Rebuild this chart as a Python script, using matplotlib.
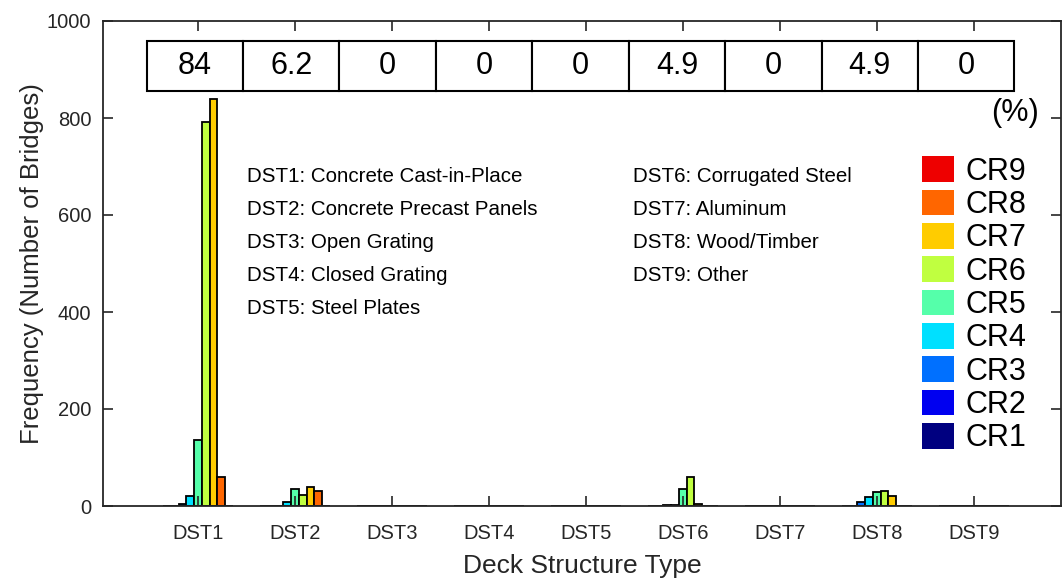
import matplotlib.pyplot as plt
import numpy as np
from matplotlib.patches import Rectangle

plt.rcParams['font.family'] = ['Liberation Sans', 'DejaVu Sans']

deck_types = ['DST1', 'DST2', 'DST3', 'DST4', 'DST5', 'DST6', 'DST7', 'DST8', 'DST9']
ratings = ['CR1', 'CR2', 'CR3', 'CR4', 'CR5', 'CR6', 'CR7', 'CR8', 'CR9']
# counts[rating][deck type]
counts = [
    [0, 0, 0, 0, 0, 0, 0, 0, 0],      # CR1
    [1, 0, 0, 0, 0, 1, 0, 0, 0],      # CR2
    [4, 0, 0, 0, 0, 2, 0, 8, 0],      # CR3
    [20, 8, 0, 0, 0, 3, 0, 19, 0],    # CR4
    [136, 35, 0, 0, 0, 35, 0, 28, 0],  # CR5
    [792, 23, 0, 0, 0, 60, 0, 31, 0],  # CR6
    [839, 40, 0, 0, 0, 5, 0, 21, 0],   # CR7
    [60, 31, 0, 0, 0, 1, 0, 0, 0],     # CR8
    [0, 0, 0, 0, 0, 0, 0, 0, 0],       # CR9
]
percent = ['84', '6.2', '0', '0', '0', '4.9', '0', '4.9', '0']
descriptions = ['DST1: Concrete Cast-in-Place', 'DST2: Concrete Precast Panels',
                'DST3: Open Grating', 'DST4: Closed Grating', 'DST5: Steel Plates',
                'DST6: Corrugated Steel', 'DST7: Aluminum', 'DST8: Wood/Timber',
                'DST9: Other']
colors = ['#000080', '#0000F0', '#0070FF', '#00E0FF', '#55FFAA',
          '#C0FF40', '#FFCC00', '#FF6600', '#EE0000']

fig = plt.figure(figsize=(10.62, 5.82), dpi=100)
ax = fig.add_axes([103 / 1062, 76 / 582, 958 / 1062, 485 / 582])

x = np.arange(1, 10)
step = 0.08
for j, (vals, c) in enumerate(zip(counts, colors)):
    ax.bar(x + (j - 4) * step, vals, width=step, color=c,
           edgecolor='black', linewidth=1.3, label=ratings[j])

ax.set_xlim(0.02, 9.9)
ax.set_ylim(0, 1000)
ax.set_xticks(x)
ax.set_xticklabels(deck_types)
ax.set_yticks(range(0, 1001, 200))
ax.tick_params(direction='in', length=7, width=1.2, top=True, right=True,
               labelsize=14.5, colors='#262626')
ax.tick_params(axis='x', pad=13)
ax.tick_params(axis='y', pad=8.5)
for s in ax.spines.values():
    s.set_linewidth(1.3)
    s.set_color('#262626')
ax.set_xlabel('Deck Structure Type', fontsize=19, color='#262626', labelpad=8)
ax.set_ylabel('Frequency (Number of Bridges)', fontsize=18.5, color='#262626', labelpad=2)

# percentage table at the top
edges = np.linspace(0.47, 9.42, 10)
for i, p in enumerate(percent):
    ax.add_patch(Rectangle((edges[i], 856), edges[i + 1] - edges[i], 103,
                           facecolor='white', edgecolor='black', linewidth=1.5))
    ax.text((edges[i] + edges[i + 1]) / 2, 907, p, ha='center', va='center', fontsize=22)
ax.text(9.43, 810, '(%)', ha='center', va='center', fontsize=22)

# deck structure descriptions
for i, d in enumerate(descriptions):
    col, row = divmod(i, 5)
    ax.text(1.5 + col * 3.99, 680 - row * 68, d, ha='left', va='center', fontsize=14.8)

handles, labels = ax.get_legend_handles_labels()
leg = ax.legend(handles[::-1], labels[::-1], loc='upper right', bbox_to_anchor=(0.977, 0.746),
                frameon=False, fontsize=22, handlelength=1.06, handleheight=0.92,
                labelspacing=0.095, handletextpad=0.38, borderaxespad=0)
for h in leg.legend_handles:
    h.set_edgecolor('none')

fig.savefig('out.png', dpi=100)
